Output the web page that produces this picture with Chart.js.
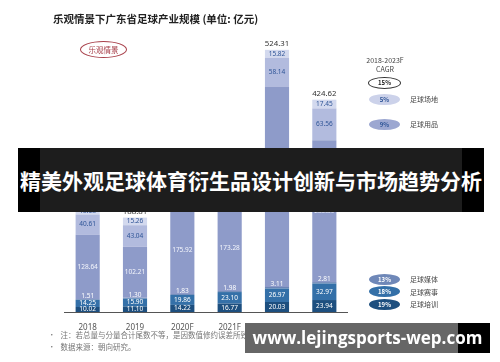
<!DOCTYPE html>
<html><head><meta charset="utf-8">
<script src="https://cdn.jsdelivr.net/npm/chart.js@4"></script>
<style>
html,body{margin:0;padding:0;background:#fff;width:500px;height:362px;overflow:hidden;font-family:"Noto Sans CJK SC","Noto Sans",sans-serif;}
#wrap{position:relative;width:500px;height:362px;}
#c{position:absolute;left:0;top:0;}
.abs{position:absolute;white-space:nowrap;}
.ell{position:absolute;width:31px;height:11px;border-radius:50%;font-size:6px;font-weight:700;line-height:11px;text-align:center;}
.lab{position:absolute;font-size:7px;color:#444;line-height:10px;}
</style></head><body>
<div id="wrap">
<canvas id="c" width="500" height="362"></canvas>
<div class="abs" style="left:53px;top:11px;font-size:10.5px;font-weight:700;color:#222;">乐观情景下广东省足球产业规模 (单位: 亿元)</div>
<div class="abs" style="left:80px;top:41px;width:45px;height:15px;border:1.3px solid #a8404a;border-radius:50%;color:#a8404a;font-size:7.5px;line-height:15px;text-align:center;">乐观情景</div>
<div class="abs" style="left:355px;top:56px;width:60px;text-align:center;font-size:7px;line-height:9px;color:#444;">2018-2023F<br>CAGR</div>
<div id="legend"></div>
<div class="abs" style="left:48px;top:329px;font-size:7.5px;color:#777;line-height:11.5px;">•&nbsp;&nbsp; 注：若总量与分量合计尾数不等，是因数值修约误差所致。<br>•&nbsp;&nbsp; 数据来源：朝向研究。</div>
<div class="abs" style="left:18px;top:148px;width:466px;height:64px;background:#000;"></div>
<div class="abs" style="left:40px;top:148px;width:422px;height:64px;background:rgba(40,40,40,0.72);"></div>
<div class="abs" style="left:18px;top:148px;width:466px;height:64px;line-height:64px;text-align:center;color:#fff;font-size:21px;font-weight:700;">精美外观足球体育衍生品设计创新与市场趋势分析</div>
<div class="abs" style="left:245px;top:323px;width:245px;height:30px;background:#000;"></div>
<div class="abs" style="left:245px;top:323px;width:213px;height:30px;background:#666;"></div>
<div class="abs" style="left:251px;top:323px;width:233px;height:30px;line-height:30px;text-align:center;color:#fff;font-size:17px;font-weight:700;font-family:'Open Sans','DejaVu Sans',sans-serif;">www.lejingsports-wep.com</div>
</div>
<script>
const categories = ['2018','2019','2020F','2021F','2022F','2023F'];
const training = [10.02, 11.10, 14.22, 16.77, 20.03, 23.94];   // 足球培训
const events   = [14.25, 15.90, 19.86, 23.10, 26.97, 32.97];   // 足球赛事
const media    = [1.51, 1.30, 1.83, 1.98, 3.11, 2.81];         // 足球媒体
const lottery  = [128.64, 102.21, 175.92, 173.28, 400.23, 283.89];
const goods    = [40.61, 43.04, 48.85, 53.25, 58.14, 63.56];   // 足球用品
const venues   = [13.68, 15.26, 17.30, 13.71, 15.82, 17.45];   // 足球场地
const totals   = [208.71, 188.81, 277.98, 282.09, 524.31, 424.62];
const cagrNames  = ['总计','足球场地','足球用品','足球媒体','足球赛事','足球培训'];
const cagrValues = ['15%','5%','9%','13%','18%','19%'];

const colors = ['#1d4f7f','#3470a8','#6c86b6','#8e9bc9','#b2bbde','#d3d9ee'];
const labelColors = ['#fff','#fff','#fff','#f4f6fc','#2f5597','#2f5597'];

// legend
(function(){
  const lg = document.getElementById('legend');
  const ys = [83, 99, 124, 279, 291.5, 304];
  const fill = ['#fff','#ccd2ea','#9ca7d1','#6f88b8','#3470a8','#1d4f7f'];
  const tc = ['#222','#2f5597','#2f5597','#fff','#fff','#fff'];
  for (let i = 0; i < cagrValues.length; i++) {
    const e = document.createElement('div');
    e.className = 'ell';
    e.style.left = '369px'; e.style.top = (ys[i] - 5.5) + 'px';
    e.style.background = fill[i]; e.style.color = tc[i];
    if (i === 0) { e.style.border = '1.2px solid #333'; e.style.width='31px'; e.style.height='10px'; e.style.lineHeight='10px'; e.style.top=(ys[i]-6)+'px'; e.style.left='368px'; }
    e.textContent = cagrValues[i];
    lg.appendChild(e);
    if (i > 0) {
      const l = document.createElement('div');
      l.className = 'lab';
      l.style.left = '410px'; l.style.top = (ys[i] - 5) + 'px';
      l.textContent = cagrNames[i];
      lg.appendChild(l);
    }
  }
})();

const labelPlugin = {
  id: 'labels',
  afterDatasetsDraw(chart) {
    const ctx = chart.ctx;
    ctx.save();
    ctx.textAlign = 'center';
    ctx.textBaseline = 'middle';
    ctx.font = '6.5px "Noto Sans", "DejaVu Sans", sans-serif';
    chart.data.datasets.forEach((ds, di) => {
      const meta = chart.getDatasetMeta(di);
      meta.data.forEach((el, i) => {
        const v = ds.data[i];
        let y = (el.y + el.base) / 2;
        if (di === 2) y = el.y - 2.5;
        ctx.fillStyle = labelColors[di];
        ctx.fillText(v.toFixed(2), el.x, y);
      });
    });
    const top = chart.getDatasetMeta(chart.data.datasets.length - 1);
    ctx.font = '7.8px "Noto Sans", "DejaVu Sans", sans-serif';
    ctx.fillStyle = '#333';
    top.data.forEach((el, i) => {
      ctx.fillText(totals[i].toFixed(2), el.x, el.y - 6);
    });
    // axis line
    const y0 = chart.scales.y.getPixelForValue(0);
    ctx.strokeStyle = '#555';
    ctx.lineWidth = 1;
    ctx.beginPath();
    ctx.moveTo(chart.chartArea.left, Math.round(y0) + 0.5);
    ctx.lineTo(chart.chartArea.right, Math.round(y0) + 0.5);
    ctx.stroke();
    ctx.restore();
  }
};

const series = [training, events, media, lottery, goods, venues];
const names = ['足球培训','足球赛事','足球媒体','足球彩票','足球用品','足球场地'];

new Chart(document.getElementById('c'), {
  type: 'bar',
  data: {
    labels: categories,
    datasets: series.map((d, i) => ({
      label: names[i], data: d, backgroundColor: colors[i],
      borderWidth: 0, barPercentage: 1, categoryPercentage: 0.51
    }))
  },
  options: {
    responsive: false, animation: false,
    layout: { padding: { left: 64, right: 152, top: 12, bottom: 30 } },
    plugins: { legend: { display: false }, tooltip: { enabled: false } },
    scales: {
      x: {
        stacked: true,
        grid: { display: false },
        border: { display: false },
        ticks: { color: '#555', font: { size: 8, family: '"Noto Sans", "DejaVu Sans", sans-serif' }, padding: 3 },
        afterFit(s) { s.height = 20; }
      },
      y: { stacked: true, display: false, min: 0, max: 600 }
    }
  },
  plugins: [labelPlugin]
});
</script>
</body></html>
